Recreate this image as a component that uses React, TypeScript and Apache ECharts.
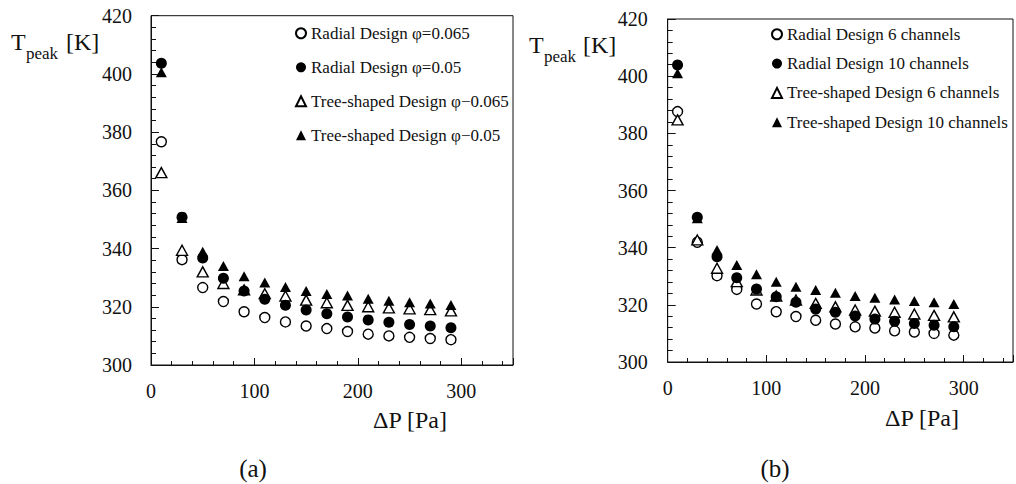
import React, { useEffect, useRef } from "react";
import * as echarts from "echarts";

// Pressure drop values (Pa) shared by every series
const deltaP = [10, 30, 50, 70, 90, 110, 130, 150, 170, 190, 210, 230, 250, 270, 290];

// Panel (a): porosity comparison
const radialPhi065 = [376.7, 336.2, 326.6, 321.8, 318.3, 316.3, 314.8, 313.4, 312.5, 311.5, 310.6, 310.0, 309.5, 309.1, 308.7];
const radialPhi05 = [403.7, 350.8, 336.8, 329.8, 325.4, 322.6, 320.5, 318.9, 317.6, 316.5, 315.5, 314.7, 313.9, 313.4, 312.8];
const treePhi065 = [366.1, 339.4, 332.0, 328.0, 325.8, 324.5, 323.7, 322.3, 321.4, 320.5, 320.0, 319.6, 319.3, 319.0, 318.6];
const treePhi05 = [400.6, 350.5, 338.9, 334.0, 330.5, 328.3, 326.8, 325.4, 324.4, 323.9, 322.8, 322.1, 321.6, 321.1, 320.6];

// Panel (b): channel-count comparison
const radial6 = [387.6, 341.9, 330.2, 325.4, 320.3, 317.6, 315.9, 314.6, 313.3, 312.3, 311.9, 310.9, 310.5, 310.0, 309.4];
const radial10 = [403.9, 350.6, 336.8, 329.5, 325.5, 322.8, 320.9, 318.5, 317.4, 316.1, 315.0, 314.3, 313.5, 312.9, 312.3];
const tree6 = [384.7, 342.7, 332.8, 328.1, 325.2, 323.1, 321.7, 320.5, 319.3, 318.2, 317.8, 317.4, 316.8, 316.3, 315.8];
const tree10 = [401.0, 350.3, 339.2, 333.9, 330.7, 328.1, 326.3, 325.2, 324.2, 323.1, 322.5, 321.9, 321.3, 320.9, 320.3];

const namesA = [
  "Radial Design φ=0.065",
  "Radial Design φ=0.05",
  "Tree-shaped Design φ−0.065",
  "Tree-shaped Design φ−0.05",
];
const namesB = [
  "Radial Design 6 channels",
  "Radial Design 10 channels",
  "Tree-shaped Design 6 channels",
  "Tree-shaped Design 10 channels",
];

const yTicks = [300, 320, 340, 360, 380, 400, 420];
const xLabels = [0, 100, 200, 300];

const FONT = "Liberation Serif";
const INK = "#111";

const pairs = (ys: number[]) => ys.map((y, i) => [deltaP[i], y]);

type Mark = "openCircle" | "filledCircle" | "openTri" | "filledTri";

function markStyle(kind: Mark) {
  const open = kind === "openCircle" || kind === "openTri";
  const tri = kind === "openTri" || kind === "filledTri";
  return {
    symbol: tri ? "triangle" : "circle",
    symbolSize: tri ? [11, 10] : open ? 10 : 11,
    itemStyle: open
      ? { color: "#fff", borderColor: "#000", borderWidth: 1.4, opacity: 1 }
      : { color: "#000", borderColor: "#000", borderWidth: 0, opacity: 1 },
  };
}

function series(name: string, ys: number[], kind: Mark, panel: number) {
  return {
    type: "scatter",
    name,
    xAxisIndex: panel * 2,
    yAxisIndex: panel,
    data: pairs(ys),
    ...markStyle(kind),
    z: kind === "filledTri" ? 5 : kind === "filledCircle" ? 4 : kind === "openTri" ? 3 : 2,
  };
}

function xAxes(gridIndex: number) {
  return [
    {
      type: "value",
      gridIndex,
      position: "bottom",
      min: 0,
      max: 350,
      interval: 20,
      axisLine: { show: true, lineStyle: { color: INK, width: 1 } },
      axisTick: { show: true, inside: true, length: 4, lineStyle: { color: INK } },
      splitLine: { show: false },
      axisLabel: {
        show: true,
        margin: 16,
        fontSize: 20,
        fontFamily: FONT,
        color: INK,
        formatter: (v: number) => (xLabels.includes(v) ? String(v) : ""),
      },
    },
    {
      type: "value",
      gridIndex,
      position: "bottom",
      min: 0,
      max: 350,
      interval: 100,
      axisLine: { show: false },
      axisTick: { show: true, inside: true, length: 7, lineStyle: { color: INK } },
      splitLine: { show: false },
      axisLabel: { show: false },
    },
  ];
}

function yAxis(gridIndex: number, margin: number) {
  return {
    type: "value",
    gridIndex,
    min: 300,
    max: 420,
    interval: 20,
    axisLine: { show: true, lineStyle: { color: INK, width: 1 } },
    axisTick: { show: true, inside: true, length: 8, lineStyle: { color: INK } },
    minorTick: { show: true, splitNumber: 5, length: 5, lineStyle: { color: INK } },
    splitLine: { show: false },
    minorSplitLine: { show: false },
    axisLabel: {
      margin,
      fontSize: 20,
      fontFamily: FONT,
      color: INK,
      formatter: (v: number) => (yTicks.includes(v) ? String(v) : ""),
    },
  };
}

function legend(data: string[], left: number, top: number, gap: number, size: number) {
  return {
    data,
    orient: "vertical",
    left,
    top,
    padding: 0,
    itemGap: gap,
    itemWidth: 10,
    itemHeight: 10,
    textStyle: { fontSize: size, fontFamily: FONT, color: INK },
  };
}

function txt(text: string, x: number, y: number, size: number, align = "left") {
  return {
    type: "text",
    x,
    y,
    style: {
      text,
      fontSize: size,
      fontFamily: FONT,
      fill: INK,
      textAlign: align,
      textVerticalAlign: "middle",
    },
  };
}

export default function App() {
  const ref = useRef<HTMLDivElement>(null);

  useEffect(() => {
    if (!ref.current) return;
    const chart = echarts.init(ref.current, undefined, { renderer: "svg" });
    chart.setOption({
      animation: false,
      backgroundColor: "#fff",
      textStyle: { fontFamily: FONT },
      grid: [
        { left: 151, top: 15.7, width: 362, height: 349.3, show: true, borderColor: INK, borderWidth: 1, backgroundColor: "transparent" },
        { left: 667.7, top: 19, width: 356, height: 343, show: true, borderColor: INK, borderWidth: 1, backgroundColor: "transparent" },
      ],
      xAxis: [...xAxes(0), ...xAxes(1)],
      yAxis: [yAxis(0, 19), yAxis(1, 20)],
      legend: [legend(namesA, 295, 24.8, 17, 17), legend(namesB, 771, 25.8, 12.3, 17)],
      series: [
        series(namesA[0], radialPhi065, "openCircle", 0),
        series(namesA[1], radialPhi05, "filledCircle", 0),
        series(namesA[2], treePhi065, "openTri", 0),
        series(namesA[3], treePhi05, "filledTri", 0),
        series(namesB[0], radial6, "openCircle", 1),
        series(namesB[1], radial10, "filledCircle", 1),
        series(namesB[2], tree6, "openTri", 1),
        series(namesB[3], tree10, "filledTri", 1),
      ],
      graphic: [
        txt("T", 11, 42, 24),
        txt("peak", 26, 53, 17),
        txt("[K]", 66, 42, 24),
        txt("T", 529, 45, 24),
        txt("peak", 544, 56, 17),
        txt("[K]", 583, 45, 24),
        txt("ΔP [Pa]", 373, 420, 24),
        txt("ΔP [Pa]", 885, 418, 24),
        txt("(a)", 253, 468, 25, "center"),
        txt("(b)", 775, 468, 25, "center"),
      ],
    });
    return () => chart.dispose();
  }, []);

  return (
    <div
      ref={ref}
      style={{ position: "absolute", left: 0, top: 0, width: 1016, height: 484, background: "#fff" }}
    />
  );
}
